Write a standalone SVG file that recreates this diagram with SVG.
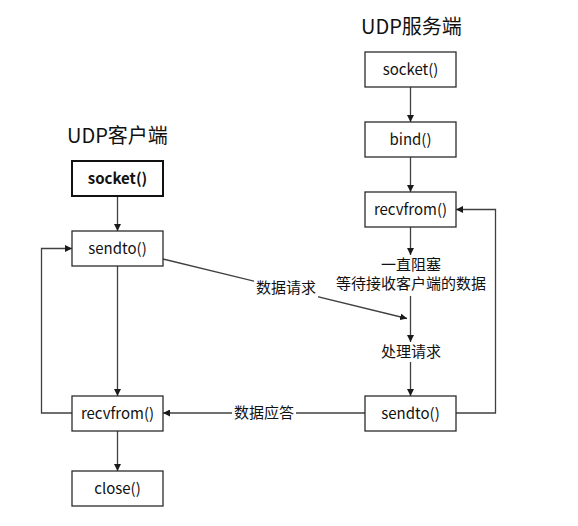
<svg xmlns="http://www.w3.org/2000/svg" width="578" height="526" viewBox="0 0 578 526">
<style>
  .box { fill: #ffffff; stroke: #2b2b2b; stroke-width: 1.3; }
  .boxb { fill: #ffffff; stroke: #111111; stroke-width: 2; }
  .t { font-family: "Noto Sans CJK SC", "Noto Sans", sans-serif; font-size: 15px; fill: #111111; text-anchor: middle; }
  .tb { font-weight: bold; }
  .title { font-family: "Noto Sans CJK SC", "Noto Sans", sans-serif; font-size: 20px; fill: #111111; }
  .lbl { font-family: "Noto Sans CJK SC", sans-serif; font-size: 15px; fill: #111111; text-anchor: middle; }
  .ln { fill: none; stroke: #404040; stroke-width: 1.3; }
</style>
<defs>
  <marker id="ah" viewBox="0 0 10 10" refX="10" refY="5" markerWidth="7" markerHeight="7" markerUnits="userSpaceOnUse" orient="auto">
    <path d="M0,0 L10,5 L0,10 Z" fill="#1a1a1a"/>
  </marker>
</defs>
<rect width="578" height="526" fill="#ffffff"/>

<text class="title" x="67" y="143">UDP客户端</text>
<text class="title" x="361" y="34">UDP服务端</text>

<g id="connectors">
  <line class="ln" x1="117.5" y1="196" x2="117.5" y2="231" marker-end="url(#ah)"/>
  <line class="ln" x1="117.5" y1="266" x2="117.5" y2="396" marker-end="url(#ah)"/>
  <line class="ln" x1="117.5" y1="431" x2="117.5" y2="471" marker-end="url(#ah)"/>
  <polyline class="ln" points="72,413 41.5,413 41.5,248.5 72,248.5" marker-end="url(#ah)"/>
  <line class="ln" x1="410.5" y1="87" x2="410.5" y2="122" marker-end="url(#ah)"/>
  <line class="ln" x1="410.5" y1="157" x2="410.5" y2="192" marker-end="url(#ah)"/>
  <line class="ln" x1="410.5" y1="227" x2="410.5" y2="255" marker-end="url(#ah)"/>
  <line class="ln" x1="410.5" y1="296" x2="410.5" y2="342" marker-end="url(#ah)"/>
  <line class="ln" x1="410.5" y1="362" x2="410.5" y2="396" marker-end="url(#ah)"/>
  <polyline class="ln" points="456,413 495.5,413 495.5,209.5 456,209.5" marker-end="url(#ah)"/>
  <line class="ln" x1="163" y1="259" x2="407" y2="318.5" marker-end="url(#ah)"/>
  <line class="ln" x1="365" y1="413" x2="163" y2="413" marker-end="url(#ah)"/>
  <rect x="254" y="278" width="64" height="20" fill="#ffffff"/>
  <text class="lbl" x="286" y="293">数据请求</text>
  <rect x="232" y="404" width="64" height="19" fill="#ffffff"/>
  <text class="lbl" x="264" y="418">数据应答</text>
</g>

<g id="c_socket">
  <rect class="boxb" x="72" y="161" width="91" height="35"/>
  <text class="t tb" x="117.5" y="184">socket()</text>
</g>
<g id="c_sendto">
  <rect class="box" x="72" y="231" width="91" height="35"/>
  <text class="t" x="117.5" y="254">sendto()</text>
</g>
<g id="c_recvfrom">
  <rect class="box" x="72" y="396" width="91" height="35"/>
  <text class="t" x="117.5" y="419">recvfrom()</text>
</g>
<g id="c_close">
  <rect class="box" x="72" y="471" width="91" height="35"/>
  <text class="t" x="117.5" y="494">close()</text>
</g>

<g id="s_socket">
  <rect class="box" x="365" y="52" width="91" height="35"/>
  <text class="t" x="410.5" y="75">socket()</text>
</g>
<g id="s_bind">
  <rect class="box" x="365" y="122" width="91" height="35"/>
  <text class="t" x="410.5" y="145">bind()</text>
</g>
<g id="s_recvfrom">
  <rect class="box" x="365" y="192" width="91" height="35"/>
  <text class="t" x="410.5" y="215">recvfrom()</text>
</g>
<g id="s_block">
  <text class="lbl" x="411" y="270">一直阻塞</text>
  <text class="lbl" x="411" y="289">等待接收客户端的数据</text>
</g>
<g id="s_process">
  <text class="lbl" x="411" y="357">处理请求</text>
</g>
<g id="s_sendto">
  <rect class="box" x="365" y="396" width="91" height="35"/>
  <text class="t" x="410.5" y="419">sendto()</text>
</g>
</svg>
